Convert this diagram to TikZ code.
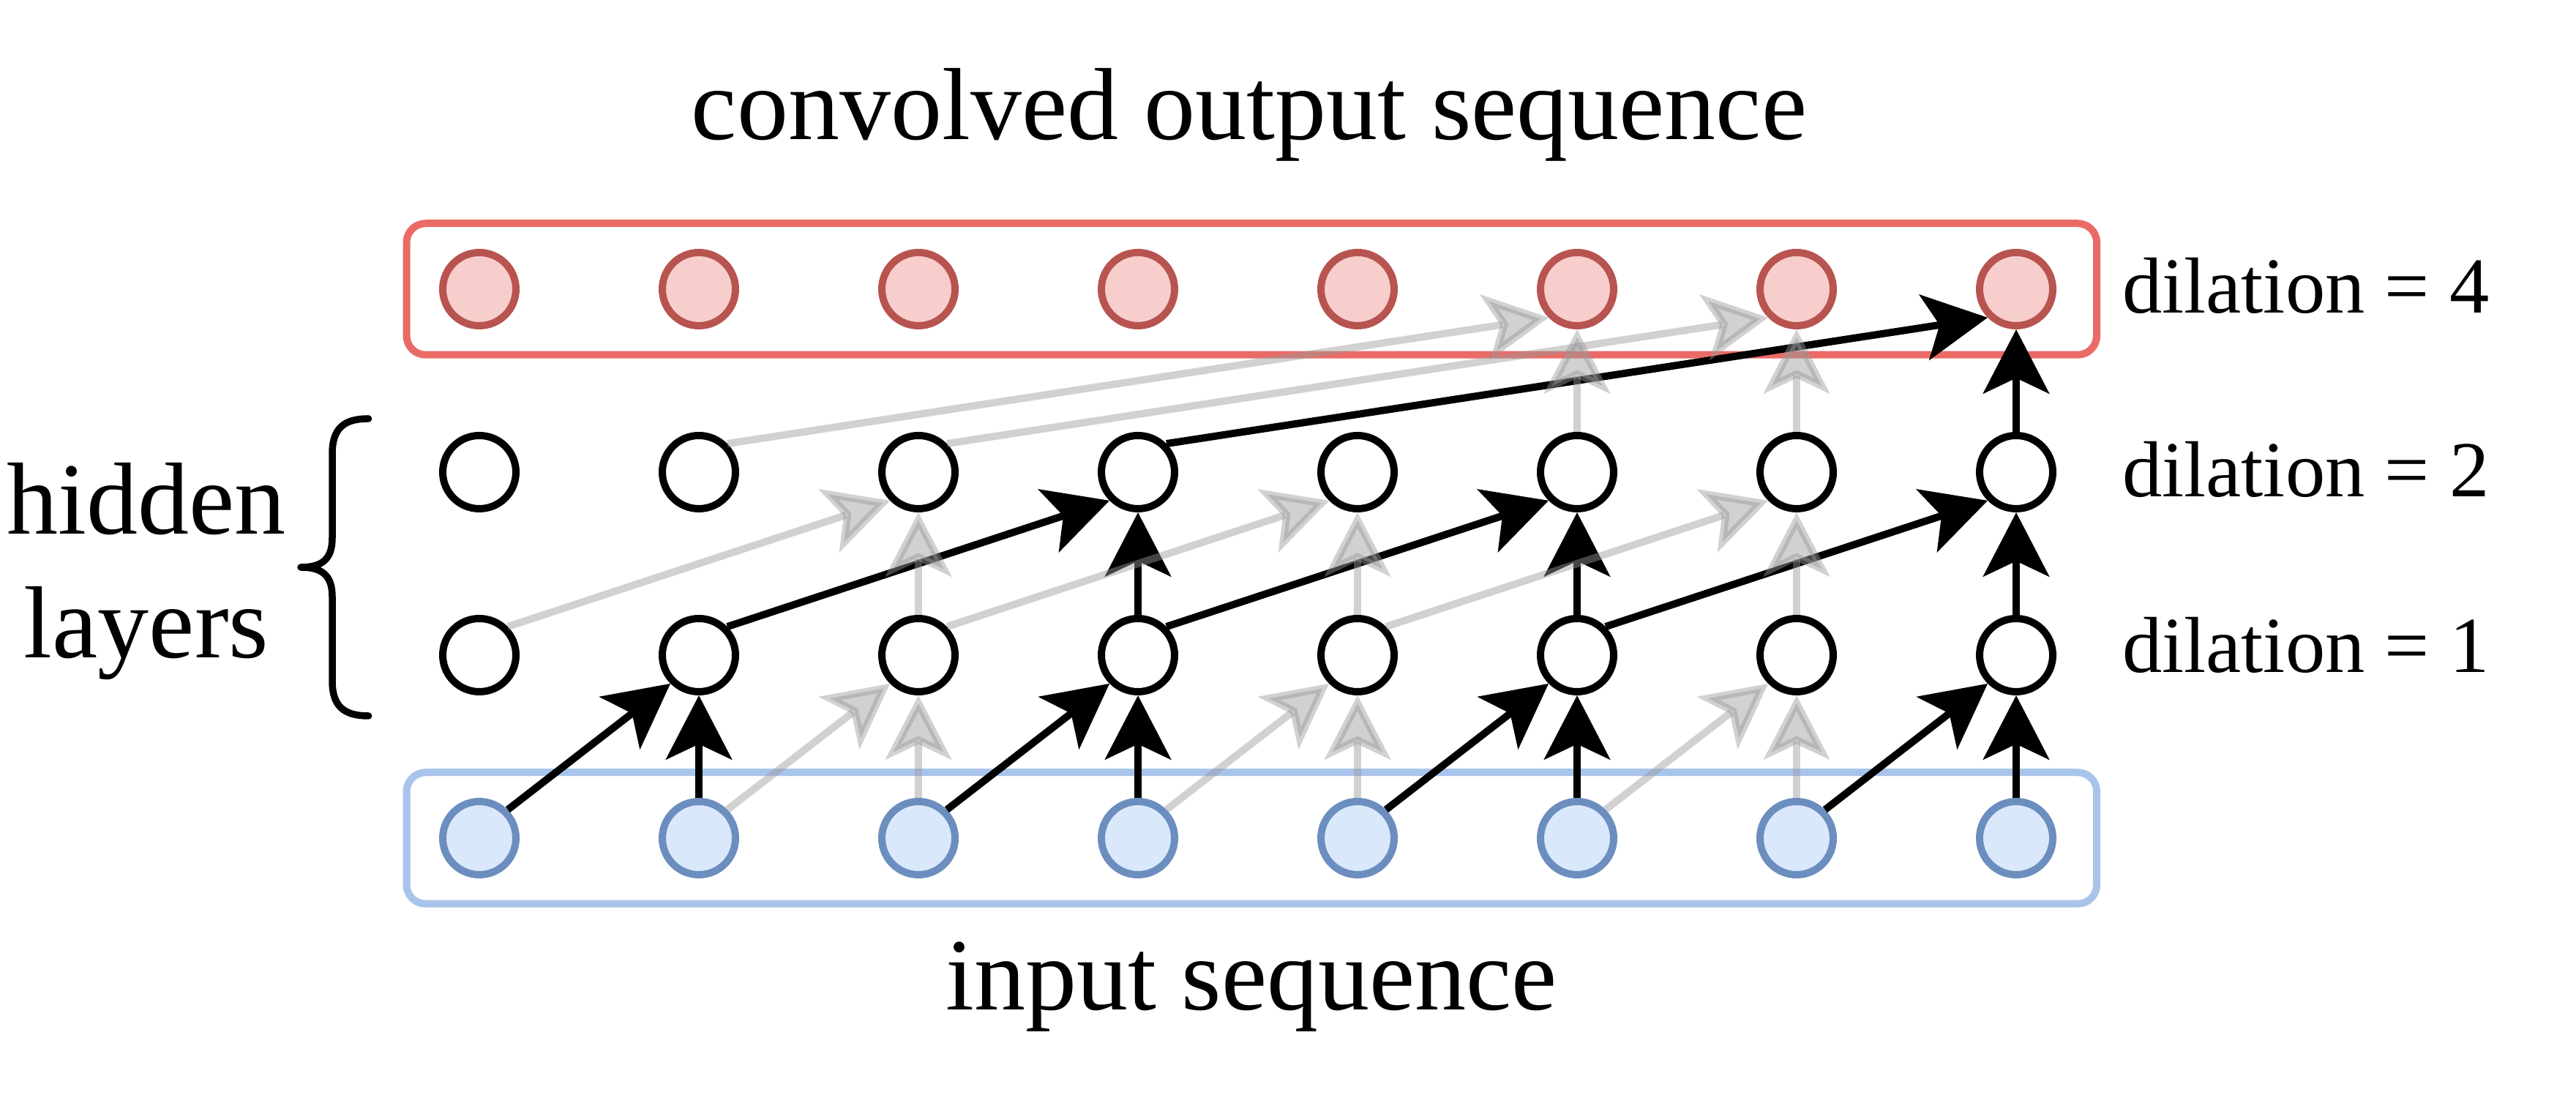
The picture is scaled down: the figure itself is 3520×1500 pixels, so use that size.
\documentclass[tikz,border=0pt]{standalone}
\usepackage{fontspec}
\setmainfont{Liberation Serif}
\usetikzlibrary{arrows.meta}
\definecolor{redbox}{HTML}{EA6B66}
\definecolor{redstroke}{HTML}{B85450}
\definecolor{redfill}{HTML}{F8CECC}
\definecolor{bluebox}{HTML}{A9C4EB}
\definecolor{bluestroke}{HTML}{6C8EBF}
\definecolor{bluefill}{HTML}{DAE8FC}
\definecolor{ghost}{HTML}{999999}
\begin{document}
\begin{tikzpicture}[x=0.2pt,y=-0.2pt,
  neuron/.style={circle,draw,line width=2pt,minimum size=20pt,inner sep=0pt},
  hid/.style={neuron,fill=white,draw=black},
  inp/.style={neuron,fill=bluefill,draw=bluestroke},
  outp/.style={neuron,fill=redfill,draw=redstroke},
  seqbox/.style={rectangle,rounded corners=5.2pt,line width=2pt,minimum width=461.9pt,minimum height=35.9pt,inner sep=0pt},
  headstyle/.style={-{Stealth[length=17.5pt,width=18pt,inset=4.2pt]}},
  blk/.style={draw=black,line width=2pt,headstyle},
  gry/.style={draw=ghost,line width=2pt,opacity=0.45,headstyle},
  big/.style={font=\fontsize{28}{33.8}\selectfont,inner sep=0pt},
  small/.style={font=\fontsize{21.7}{26}\selectfont,inner sep=0pt}
]
\fill[white] (0,0) rectangle (3520,1500);
\useasboundingbox (0,0) rectangle (3520,1500);

% sequence boxes
\node[seqbox,draw=redbox] (outbox) at (1710.3,395) {};
\node[seqbox,draw=bluebox] (inbox) at (1710.3,1145) {};

% neurons
\foreach \k in {0,...,7} {
  \node[inp]  (i\k) at ({655+300*\k},1145) {};
  \node[hid]  (a\k) at ({655+300*\k},895) {};
  \node[hid]  (b\k) at ({655+300*\k},645) {};
  \node[outp] (o\k) at ({655+300*\k},395) {};
}

% black connections
\foreach \k [evaluate=\k as \p using int(\k-1)] in {1,3,5,7} {
  \draw[blk] (i\p.north east) -- (a\k.south west);
  \draw[blk] (i\k.north) -- (a\k.south);
}
\foreach \k [evaluate=\k as \p using int(\k-2)] in {3,5,7} {
  \draw[blk] (a\p.north east) -- (b\k.south west);
  \draw[blk] (a\k.north) -- (b\k.south);
}
\draw[blk] (b3.north east) -- (o7.south west);
\draw[blk] (b7.north) -- (o7.south);

% gray connections
\foreach \k [evaluate=\k as \p using int(\k-1)] in {2,4,6} {
  \draw[gry] (i\p.north east) -- (a\k.south west);
  \draw[gry] (i\k.north) -- (a\k.south);
}
\foreach \k [evaluate=\k as \p using int(\k-2)] in {2,4,6} {
  \draw[gry] (a\p.north east) -- (b\k.south west);
  \draw[gry] (a\k.north) -- (b\k.south);
}
\foreach \k [evaluate=\k as \p using int(\k-4)] in {5,6} {
  \draw[gry] (b\p.north east) -- (o\k.south west);
  \draw[gry] (b\k.north) -- (o\k.south);
}

% texts
\node[big,anchor=base] (title) at (1707,191) {convolved output sequence};
\node[big,anchor=base] (inlabel) at (1710,1380) {input sequence};
\node[small,anchor=base west] (d4) at (2899,428) {dilation = 4};
\node[small,anchor=base west] (d2) at (2899,679) {dilation = 2};
\node[small,anchor=base west] (d1) at (2899,919) {dilation = 1};
\node[big,anchor=base] (hid1) at (200,730) {hidden};
\node[big,anchor=base] (hid2) at (200,899) {layers};

% brace
\draw[line width=1.9pt,line cap=round,line join=round]
  (503.6,572) .. controls (470,572) and (454,585) .. (454,620)
  -- (454,735) .. controls (454,764) and (440,775) .. (411,775)
  .. controls (440,775) and (454,786) .. (454,815)
  -- (454,930) .. controls (454,965) and (470,978) .. (503.6,978);
\end{tikzpicture}
\end{document}
